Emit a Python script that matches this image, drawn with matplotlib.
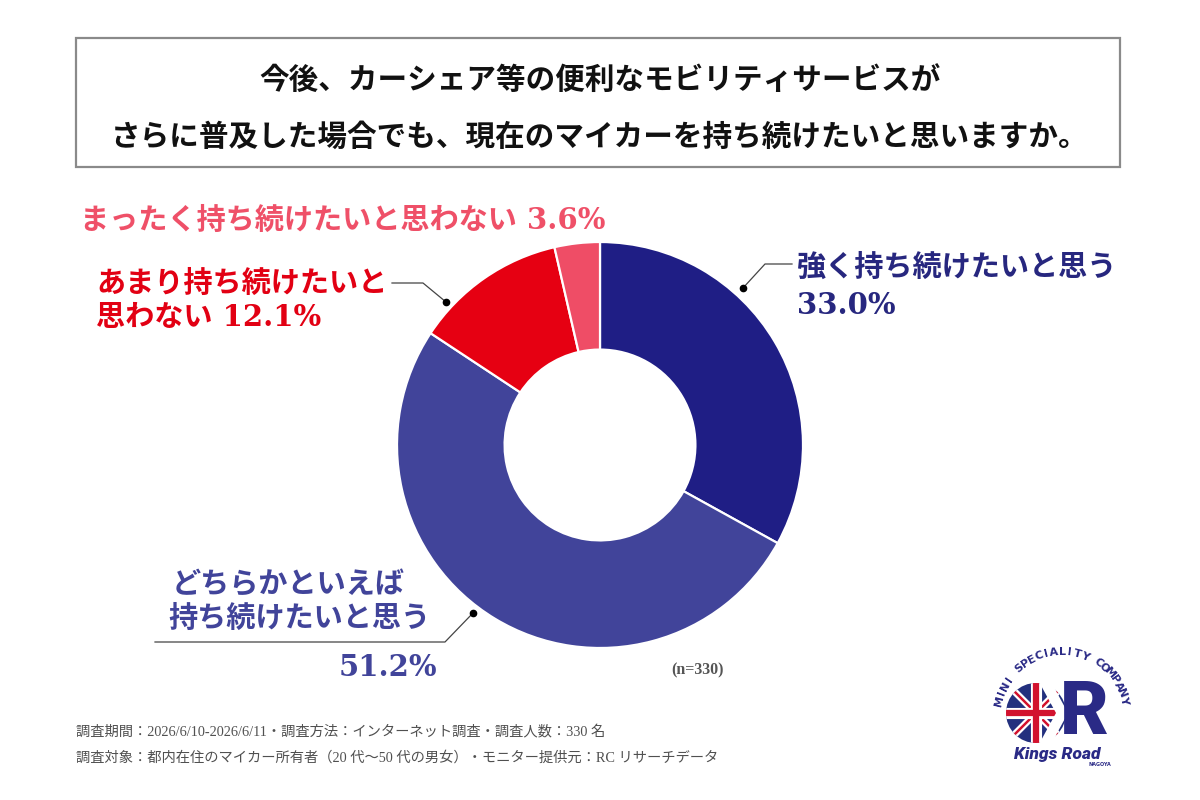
import numpy as np
import matplotlib
matplotlib.use("Agg")
import matplotlib.pyplot as plt
from matplotlib.patches import Rectangle, Circle, Polygon

# ---------------- data ----------------
categories = ['強く持ち続けたいと思う', 'どちらかといえば持ち続けたいと思う',
              'あまり持ち続けたいと思わない', 'まったく持ち続けたいと思わない']
values = [33.0, 51.2, 12.1, 3.6]
slice_colors = ['#1f1e85', '#41449a', '#e60012', '#ef4d66']
text_colors = ['#27277f', '#41449a', '#e20013', '#ef5068']
title_lines = ['今後、カーシェア等の便利なモビリティサービスが',
               'さらに普及した場合でも、現在のマイカーを持ち続けたいと思いますか。']
footer_lines = ['調査期間：2026/6/10-2026/6/11・調査方法：インターネット調査・調査人数：330 名',
                '調査対象：都内在住のマイカー所有者（20 代～50 代の男女）・モニター提供元：RC リサーチデータ']
n_label = '(n=330)'

JP = ['Noto Sans CJK JP', 'DejaVu Sans']
MIX = ['DejaVu Serif', 'Noto Sans CJK JP', 'DejaVu Sans']
FOOT = ['Liberation Serif', 'Noto Sans CJK JP', 'DejaVu Sans']

W, H = 1200, 800
fig = plt.figure(figsize=(12, 8), dpi=100)
fig.patch.set_facecolor('white')

# ---------------- donut ----------------
cx, cy, R = 600, 445, 203
pax = fig.add_axes([(cx - R) / W, (H - cy - R) / H, 2 * R / W, 2 * R / H])
pax.pie(values, colors=slice_colors, startangle=90, counterclock=False,
        radius=1.0, wedgeprops=dict(width=0.53, edgecolor='white', linewidth=1.6))
pax.set_xlim(-1, 1)
pax.set_ylim(-1, 1)
pax.set_aspect('equal')
pax.axis('off')

# ---------------- overlay (pixel coords) ----------------
ax = fig.add_axes([0, 0, 1, 1], zorder=5)
ax.set_xlim(0, W)
ax.set_ylim(H, 0)
ax.axis('off')
ax.patch.set_alpha(0)

# title box
ax.add_patch(Rectangle((76, 38), 1044, 129, fill=False, edgecolor='#8a8a8a', linewidth=1.6))
ax.text(600, 80, title_lines[0], ha='center', va='center', fontsize=21.3,
        fontweight='bold', family=JP, color='#111111')
ax.text(600, 137, title_lines[1], ha='center', va='center', fontsize=21.3,
        fontweight='bold', family=JP, color='#111111')

pct = [f'{v:.1f}%' for v in values]
fs = 21

# label 0: 強く
ax.text(797, 267, categories[0], ha='left', va='center', fontsize=fs,
        fontweight='bold', family=MIX, color=text_colors[0])
ax.text(797, 305, pct[0], ha='left', va='center', fontsize=fs,
        fontweight='bold', family=MIX, color=text_colors[0])
ax.plot([743, 765, 792], [288, 264, 264], color='#444444', lw=0.9)
ax.plot([743], [288], 'o', color='black', ms=4.5)

# label 1: どちらかといえば
ax.text(172, 585, 'どちらかといえば', ha='left', va='center', fontsize=fs,
        fontweight='bold', family=MIX, color=text_colors[1])
ax.text(168, 618, '持ち続けたいと思う', ha='left', va='center', fontsize=fs,
        fontweight='bold', family=MIX, color=text_colors[1])
ax.text(437, 668, pct[1], ha='right', va='center', fontsize=fs,
        fontweight='bold', family=MIX, color=text_colors[1])
ax.plot([155, 445, 473], [642, 642, 613], color='#444444', lw=0.9)
ax.plot([473], [613], 'o', color='black', ms=4.5)

# label 2: あまり
ax.text(96, 283, 'あまり持ち続けたいと', ha='left', va='center', fontsize=fs,
        fontweight='bold', family=MIX, color=text_colors[2])
ax.text(96, 317, '思わない ' + pct[2], ha='left', va='center', fontsize=fs,
        fontweight='bold', family=MIX, color=text_colors[2])
ax.plot([392, 423, 446], [283, 283, 302], color='#444444', lw=0.9)
ax.plot([446], [302], 'o', color='black', ms=4.5)

# label 3: まったく
ax.text(80, 220, categories[3] + ' ' + pct[3], ha='left', va='center', fontsize=fs,
        fontweight='bold', family=MIX, color=text_colors[3])

# n label
ax.text(697, 670, n_label, ha='center', va='center', fontsize=11.5,
        fontweight='bold', family=FOOT, color='#555555')

# footer
ax.text(76, 732, footer_lines[0], ha='left', va='center', fontsize=10.3,
        family=FOOT, color='#505050')
ax.text(76, 758, footer_lines[1], ha='left', va='center', fontsize=10.3,
        family=FOOT, color='#505050')

# ---------------- logo ----------------
navy = '#2a2a86'
red = '#d2122e'
fc_x, fc_y, fr = 1036, 713, 30
clip = Circle((fc_x, fc_y), fr, transform=ax.transData)
base = Circle((fc_x, fc_y), fr, facecolor='#23307e', edgecolor='none')
ax.add_patch(base)
arts = []
arts += ax.plot([fc_x - fr, fc_x + fr], [fc_y - fr, fc_y + fr], color='white', lw=5)
arts += ax.plot([fc_x - fr, fc_x + fr], [fc_y + fr, fc_y - fr], color='white', lw=5)
arts += ax.plot([fc_x - fr, fc_x + fr], [fc_y - fr, fc_y + fr], color=red, lw=1.8)
arts += ax.plot([fc_x - fr, fc_x + fr], [fc_y + fr, fc_y - fr], color=red, lw=1.8)
arts += ax.plot([fc_x - fr, fc_x + fr], [fc_y, fc_y], color='white', lw=8)
arts += ax.plot([fc_x, fc_x], [fc_y - fr, fc_y + fr], color='white', lw=8)
arts += ax.plot([fc_x - fr, fc_x + fr], [fc_y, fc_y], color=red, lw=4.5)
arts += ax.plot([fc_x, fc_x], [fc_y - fr, fc_y + fr], color=red, lw=4.5)
for a in arts:
    a.set_clip_path(clip)
ax.add_patch(Polygon([(1038, 680), (1050, 680), (1068, 713), (1050, 746), (1038, 746), (1056, 713)],
                     closed=True, facecolor='white', edgecolor='none', zorder=3))
ax.text(1084, 714, 'R', ha='center', va='center', fontsize=54, fontweight='black',
        family=['Roboto', 'DejaVu Sans'], color=navy, zorder=4)

arc_text = 'MINI SPECIALITY COMPANY'
acx, acy, ar = 1062, 716, 64
angs = np.linspace(166, 14, len(arc_text))
for ch, th in zip(arc_text, angs):
    t = np.deg2rad(th)
    ax.text(acx + ar * np.cos(t), acy - ar * np.sin(t), ch, rotation=th - 90,
            ha='center', va='center', fontsize=8, fontweight='bold',
            family=['DejaVu Sans'], color=navy, rotation_mode='anchor')

ax.text(1057, 754, 'Kings Road', ha='center', va='center', fontsize=12.5,
        fontweight='black', style='italic', family=['Roboto', 'DejaVu Sans'], color=navy)
ax.text(1100, 765, 'NAGOYA', ha='center', va='center', fontsize=3.5,
        fontweight='bold', family=['DejaVu Sans'], color=navy)

fig.savefig('out.png', dpi=100, facecolor='white')
